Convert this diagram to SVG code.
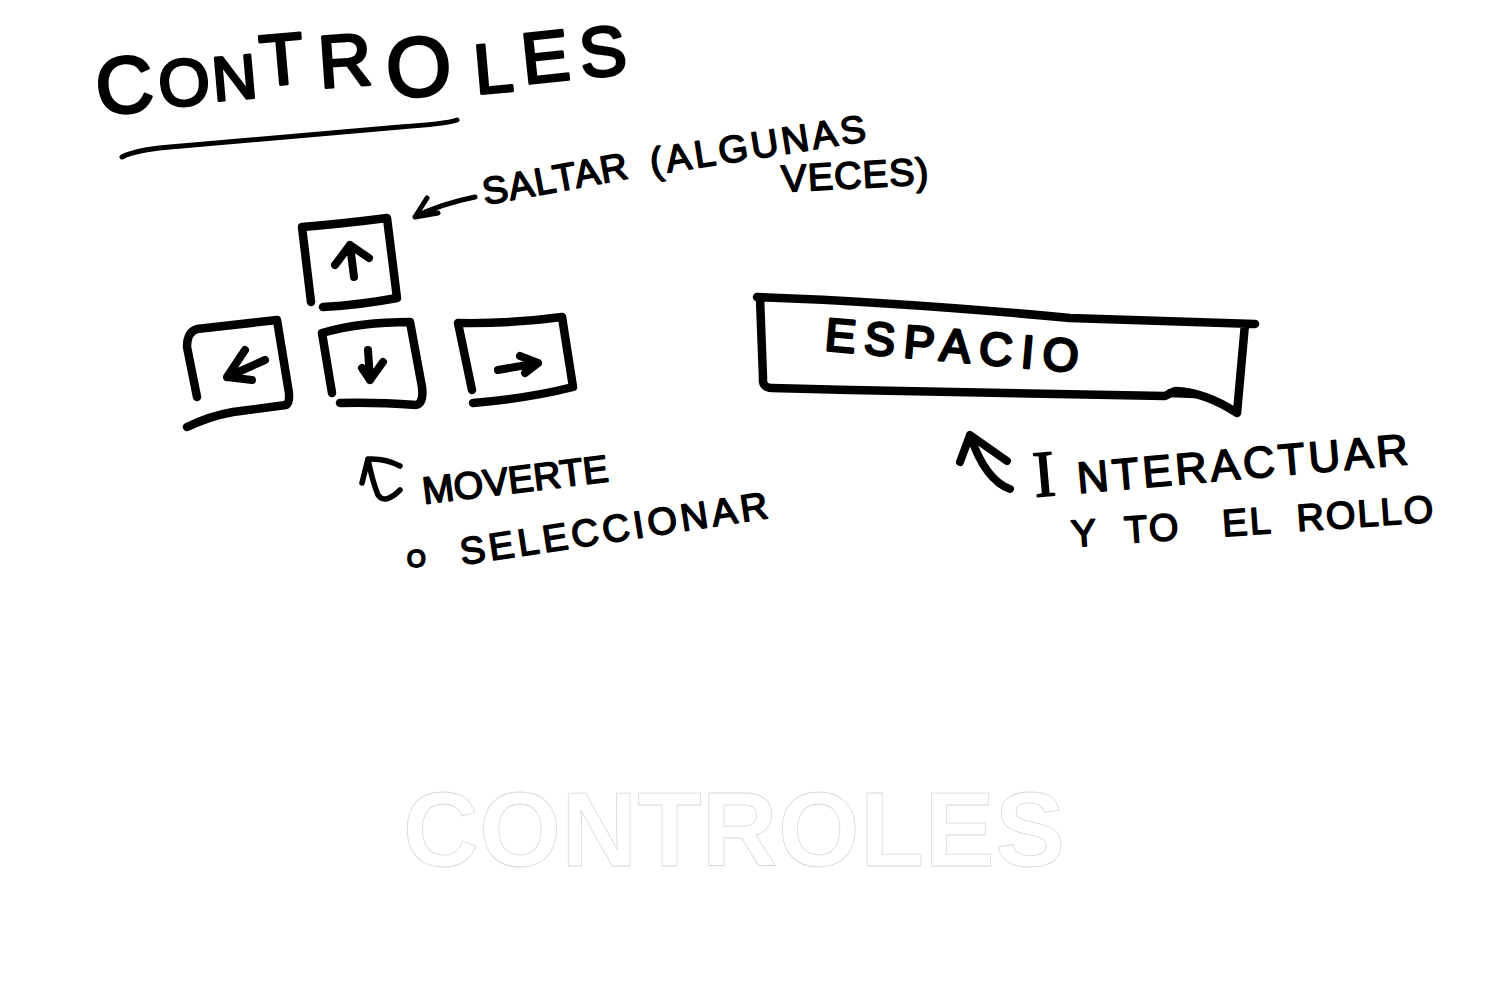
<svg xmlns="http://www.w3.org/2000/svg" width="1512" height="1000" viewBox="0 0 1512 1000">
<style>
.ink{fill:none;stroke:#000;stroke-linecap:round;stroke-linejoin:round}
.k{stroke-width:8.5}
.a{stroke-width:8}
.h{font-family:"Liberation Sans",Arial,sans-serif;fill:#000;stroke:#000;stroke-width:1.6;stroke-linejoin:round}
.t{stroke-width:3}
.s{font-size:38px}
.g{font-family:"Liberation Sans",Arial,sans-serif;font-weight:700;font-size:105px;fill:#fff;stroke:#d8d8d8;stroke-width:.8}
</style>
<rect width="1512" height="1000" fill="#fff"/>
<g id="title">
<text class="h t"><tspan x="98" y="115" rotate="-5" font-size="80">C</tspan><tspan x="160" y="107" rotate="-4" font-size="66">O</tspan><tspan x="214" y="101" rotate="-5" font-size="62">N</tspan><tspan x="262" y="86" rotate="-5" font-size="72">T</tspan><tspan x="320" y="88" rotate="-4" font-size="74">R</tspan><tspan x="388" y="98" rotate="-4" font-size="84">O</tspan><tspan x="476" y="94" rotate="-5" font-size="70">L</tspan><tspan x="524" y="84" rotate="-6" font-size="72">E</tspan><tspan x="582" y="78" rotate="-6" font-size="70">S</tspan></text>
<path class="ink" style="stroke-width:5" d="M122 157Q135 150 170 147L400 127Q445 124 457 120"/>
</g>
<g id="key-up"><path class="ink k" d="M311 302L302 227Q340 224 387 218L397 298Q360 305 323 307"/><path class="ink a" d="M354 277L350 245M335 265L350 245L369 258"/></g>
<g id="key-left"><path class="ink k" d="M197 397L187 347Q187 332 197 329L277 320L288 387Q291 402 286 405L233 412Q210 416 187 427"/><path class="ink a" d="M265 360L227 377L245 350M227 377L252 380"/></g>
<g id="key-down"><path class="ink k" d="M332 393L322 333Q360 322 410 322L422 387Q424 403 416 405Q375 402 340 403"/><path class="ink a" d="M368 350L370 380M362 368L370 380L383 362"/></g>
<g id="key-right"><path class="ink k" d="M472 390L458 323Q510 324 562 317L573 387Q530 398 473 403"/><path class="ink a" d="M498 370L538 363M520 356L538 363L525 373"/></g>
<g id="space-bar"><path class="ink k" d="M757 297Q900 302 1070 318L1255 324M1245 324L1237 413Q1205 392 1175 391L1165 396L850 390L772 388Q762 388 763 378L760 298"/><path class="ink k" d="M1170 393L1195 394"/>
<text class="h" style="font-size:46px;stroke-width:2.8" transform="translate(824 350) rotate(5)" textLength="254">ESPACIO</text></g>
<g id="connectors">
<path class="ink" style="stroke-width:5" d="M475 197Q440 204 415 217L427 198M415 217L438 213"/>
<path class="ink" style="stroke-width:5.5" d="M368 459L362 483M368 459Q385 458 400 466M368 459Q372 480 378 495Q385 505 400 490"/>
<path class="ink" style="stroke-width:8" d="M960 462L970 435L1007 461M970 435Q985 480 1010 489"/>
</g>
<g id="labels">
<text class="h s" transform="translate(485 205) rotate(-10.5)" textLength="147">SALTAR</text>
<text class="h s" transform="translate(652 175) rotate(-9)" textLength="218">(ALGUNAS</text>
<text class="h s" transform="translate(782 192) rotate(-3)" textLength="147">VECES)</text>
<text class="h s" transform="translate(424 504) rotate(-7)" textLength="187">MOVERTE</text>
<text class="h" style="font-size:24px;stroke-width:2" x="407" y="567">O</text>
<text class="h s" transform="translate(462 565) rotate(-8.7)" textLength="311">SELECCIONAR</text>
<text class="h" style="font-size:44px;letter-spacing:3.5px" transform="translate(1035 497) rotate(-5)"><tspan style="font-size:66px;font-family:'Liberation Serif',serif">I</tspan><tspan dx="18">NTERACTUAR</tspan></text>
<text class="h" style="font-size:38px" transform="translate(1072 547) rotate(-4)">Y<tspan dx="28">T</tspan><tspan dx="2">O</tspan><tspan dx="44">E</tspan><tspan dx="2">L</tspan><tspan dx="26">R</tspan><tspan dx="2">O</tspan><tspan dx="2">L</tspan><tspan dx="2">L</tspan><tspan dx="2">O</tspan></text>
</g>
<text class="g" x="403" y="866" textLength="662">CONTROLES</text>
</svg>
